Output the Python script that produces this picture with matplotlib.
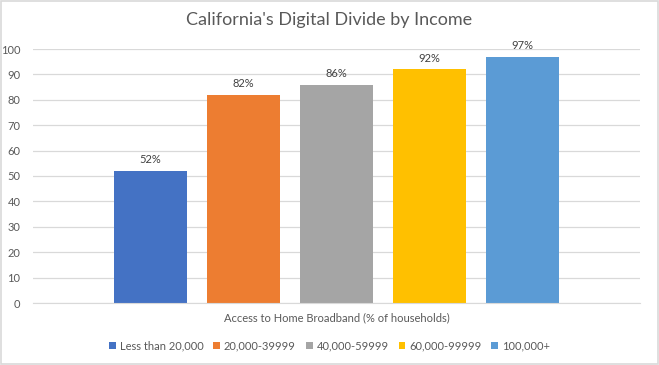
import matplotlib.pyplot as plt
import numpy as np

# data
groups = ["Less than 20,000", "20,000-39999", "40,000-59999", "60,000-99999", "100,000+"]
values = [52, 82, 86, 92, 97]
colors = ["#4472C4", "#ED7D31", "#A5A5A5", "#FFC000", "#5B9BD5"]
yticks = [0, 10, 20, 30, 40, 50, 60, 70, 80, 90, 100]

plt.rcParams['font.family'] = ['Lato', 'DejaVu Sans']
text_c = "#595959"

fig = plt.figure(figsize=(6.59, 3.65), dpi=100)
ax = fig.add_axes([33 / 659, 1 - 303 / 365, 607 / 659, 254 / 365])

x = np.arange(len(groups)) - (len(groups) - 1) / 2
for xi, v, c, g in zip(x, values, colors, groups):
    bars = ax.bar(xi, v, width=0.785, color=c, label=g, zorder=3)
    ax.bar_label(bars, labels=[f"{v}%"], padding=4, fontsize=8, color="#404040")

ax.set_xlim(-3.26, 3.26)
ax.set_ylim(0, 100)
ax.set_yticks(yticks)
ax.set_xticks([])
ax.tick_params(axis='y', length=0, labelsize=8, labelcolor=text_c, pad=9)
ax.grid(axis='y', color="#D9D9D9", linewidth=0.9, zorder=0)
for s in ["top", "right", "left"]:
    ax.spines[s].set_visible(False)
ax.spines["bottom"].set_color("#D9D9D9")
ax.spines["bottom"].set_zorder(4)

ax.set_xlabel("Access to Home Broadband (% of households)", fontsize=8,
              color=text_c, labelpad=7)
fig.text(0.5, 1 - 20 / 365, "California's Digital Divide by Income", ha='center',
         va='center', fontsize=13, color=text_c)

fig.legend(loc='center', bbox_to_anchor=(0.5, 1 - 346 / 365), ncol=5,
           frameon=False, fontsize=8, handlelength=0.6, handleheight=0.6,
           handletextpad=0.35, columnspacing=0.9, labelcolor=text_c)

fig.patches.append(plt.Rectangle((0.001, 0.002), 0.997, 0.995, transform=fig.transFigure,
                                 fill=False, edgecolor="#D9D9D9", linewidth=1.2))

fig.savefig("out.png", dpi=100)
